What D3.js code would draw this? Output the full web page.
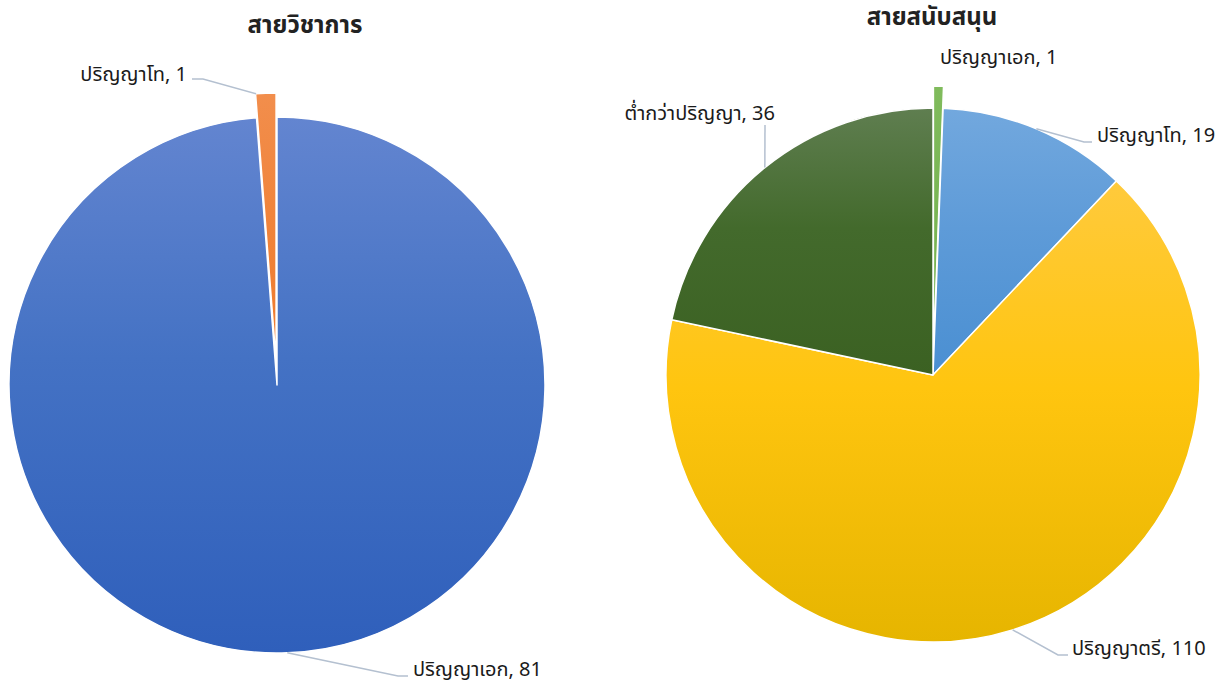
<!DOCTYPE html>
<html><head><meta charset="utf-8">
<script src="https://cdn.jsdelivr.net/npm/d3@7/dist/d3.min.js"></script>
<style>body{margin:0;background:#fff}svg{display:block}text{font-family:"Noto Sans","Noto Sans Thai",Tahoma,sans-serif}</style>
</head><body><svg id="c" width="1228" height="688"></svg>
<script>
const leftTitle = "สายวิชาการ";
const leftCategories = ["ปริญญาเอก", "ปริญญาโท"];
const leftValues = [81, 1];
const rightTitle = "สายสนับสนุน";
const rightCategories = ["ปริญญาเอก", "ปริญญาโท", "ปริญญาตรี", "ต่ำกว่าปริญญา"];
const rightValues = [1, 19, 110, 36];

const svg = d3.select("#c");
const defs = svg.append("defs");

const charts = [
  { title: leftTitle, cats: leftCategories, vals: leftValues, cx: 277, cy: 385, r: 268, titleX: 305, titleY: 33,
    colors: [["#6385d0", "#4472c4", "#2f5fbb"], ["#f28e4c", "#f0843c", "#ee7a2e"]],
    explode: [0, 24],
    labels: [
      { tx: 413, ty: 676, anchor: "start", path: p => [[p[0], p[1]], [398, 676], [408, 676]] },
      { tx: 187, ty: 81, anchor: "end", path: p => [[p[0], p[1]], [203, 79], [192, 79]], edgeAngle: "start" }
    ] },
  { title: rightTitle, cats: rightCategories, vals: rightValues, cx: 933, cy: 375, r: 267, titleX: 932, titleY: 25,
    colors: [["#80bb5c", "#7ab655", "#74b14d"], ["#72a8de", "#5e9bd8", "#4a8fd2"], ["#ffca3c", "#ffc50f", "#e6b500"], ["#5f7e50", "#436a2c", "#3b6122"]],
    explode: [22, 0, 0, 0],
    labels: [
      { tx: 940, ty: 64, anchor: "start", path: null },
      { tx: 1097, ty: 142, anchor: "start", path: p => [[p[0], p[1]], [1084, 142], [1092, 142]] },
      { tx: 1072, ty: 655, anchor: "start", path: p => [[p[0], p[1]], [1058, 655], [1068, 655]] },
      { tx: 775, ty: 120, anchor: "end", path: p => [[p[0], p[1]], [765, 125]] }
    ] }
];

charts.forEach((ch, ci) => {
  const pie = d3.pie().sort(null).value(d => d)(ch.vals);
  const arc = d3.arc().innerRadius(0).outerRadius(ch.r);
  const g = svg.append("g").attr("transform", `translate(${ch.cx},${ch.cy})`);
  pie.forEach((p, i) => {
    const id = `g${ci}_${i}`;
    const lg = defs.append("linearGradient").attr("id", id).attr("x1", 0).attr("y1", 0).attr("x2", 0).attr("y2", 1);
    lg.append("stop").attr("offset", "0%").attr("stop-color", ch.colors[i][0]);
    lg.append("stop").attr("offset", "45%").attr("stop-color", ch.colors[i][1]);
    lg.append("stop").attr("offset", "100%").attr("stop-color", ch.colors[i][2]);
    const mid = (p.startAngle + p.endAngle) / 2;
    const off = ch.explode[i];
    const dx = off * Math.sin(mid), dy = -off * Math.cos(mid);
    g.append("path").attr("d", arc(p)).attr("transform", `translate(${dx},${dy})`)
      .attr("fill", `url(#${id})`).attr("stroke", "#fff").attr("stroke-width", 1.5).attr("stroke-linejoin", "round");
    const L = ch.labels[i];
    if (L.path) {
      const ang = L.edgeAngle === "start" ? p.startAngle + 0.002 : mid;
      const sx = ch.cx + dx + ch.r * Math.sin(ang), sy = ch.cy + dy - ch.r * Math.cos(ang);
      const pts = L.path([sx, sy]);
      svg.append("path").attr("d", d3.line()(pts)).attr("fill", "none").attr("stroke", "#b4c0d0").attr("stroke-width", 1.5);
    }
    svg.append("text").attr("x", L.tx).attr("y", L.ty).attr("text-anchor", L.anchor)
      .attr("font-size", 20).attr("fill", "#1a1a1a").text(`${ch.cats[i]}, ${ch.vals[i]}`);
  });
  svg.append("text").attr("x", ch.titleX).attr("y", ch.titleY).attr("text-anchor", "middle")
    .attr("font-size", 24).attr("font-weight", "bold").attr("fill", "#222").text(ch.title);
});
</script></body></html>
